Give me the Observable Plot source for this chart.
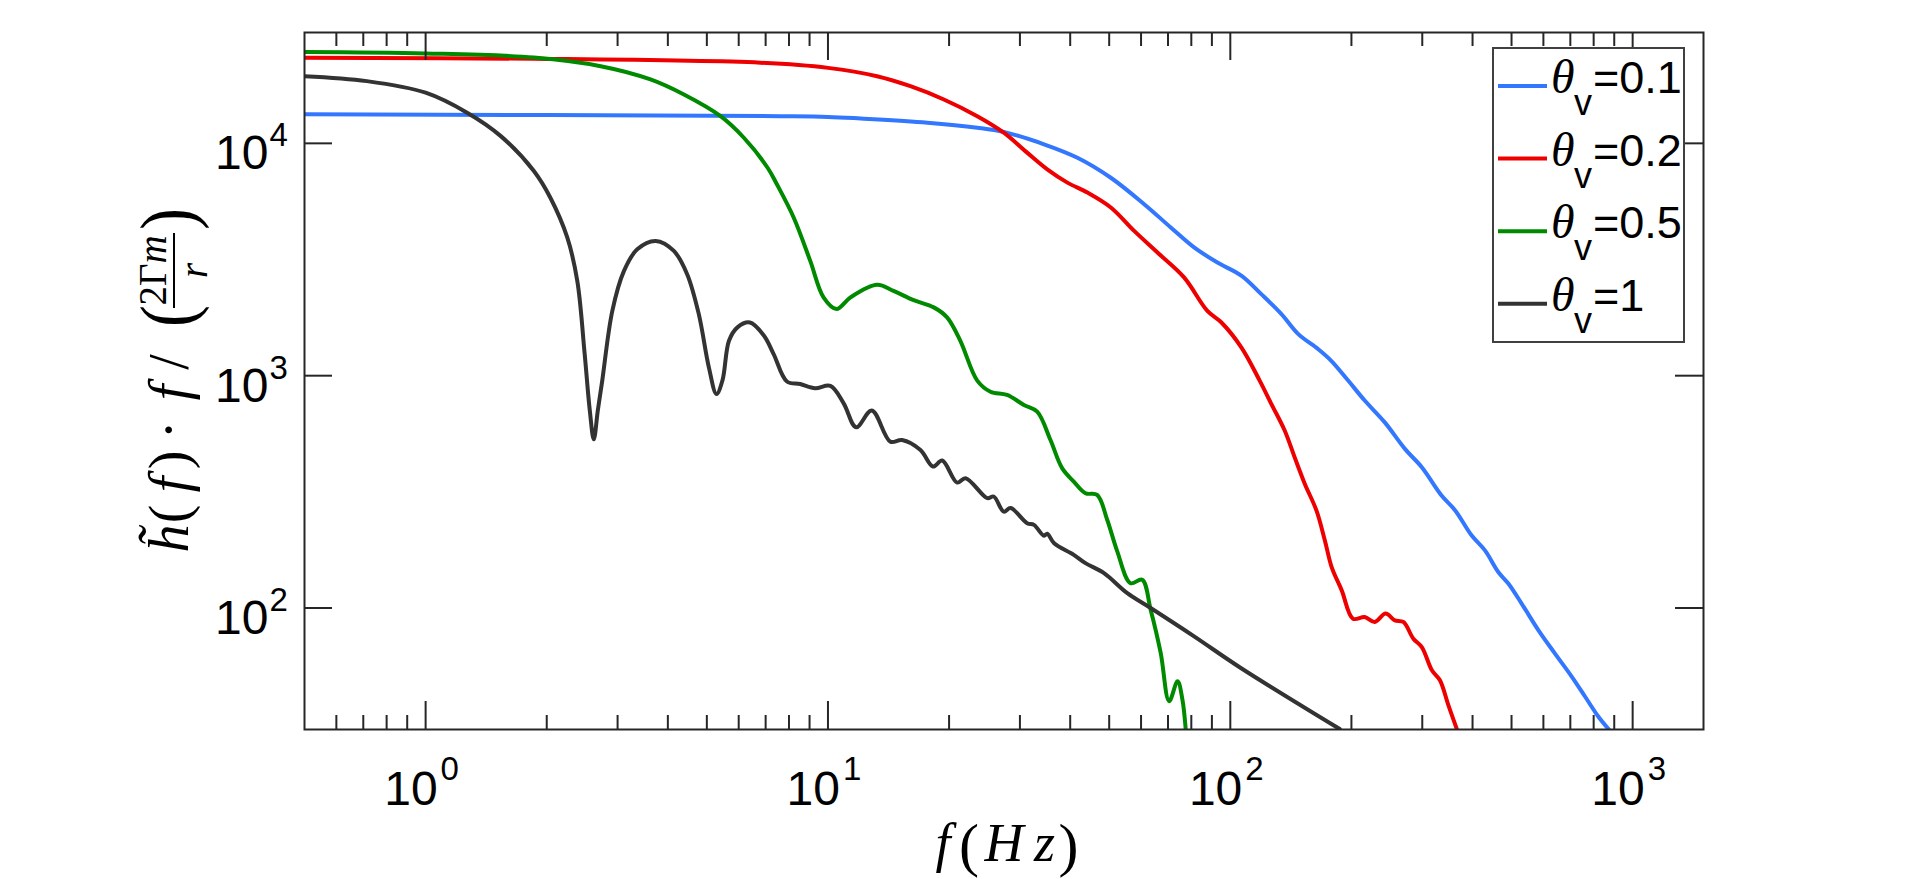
<!DOCTYPE html>
<html>
<head>
<meta charset="utf-8">
<script src="https://cdn.jsdelivr.net/npm/d3@7"></script>
<script src="https://cdn.jsdelivr.net/npm/@observablehq/plot@0.6"></script>
<style>
html,body{margin:0;padding:0;background:#fff;overflow:hidden}
#chart svg{display:block}
</style>
</head>
<body>
<div id="chart"></div>
<script>
// ---- data ----
const seriesLabels = ["0.1", "0.2", "0.5", "1"];
const seriesColors = ["#3377ff", "#ee0000", "#008a00", "#333333"];

const fBlue = [0.5, 7.638, 10, 12.05, 17.66, 23.5, 27.35, 34.43, 41.69, 50.47, 61.09, 71.12, 81.28, 92.9, 106.7, 119.4, 134.0, 147.6, 165.2, 178.2, 196.3, 215.8, 242.1, 271.6, 299.2, 335.0, 362.2, 398.1, 429.5, 463.4, 490.9, 529.7, 583.4, 641.2, 706.3, 762.1, 822.2, 871.0];
const vBlue = [13340, 13090, 13000, 12790, 12270, 11670, 11190, 9908, 8670, 7112, 5470, 4345, 3565, 3069, 2692, 2244, 1841, 1510, 1303, 1159, 952.6, 781.6, 629.5, 484.2, 403.6, 304.8, 263.0, 205.1, 177.0, 142.9, 127.4, 104.5, 80.17, 63.68, 50.58, 41.5, 34.04, 30.13];

const fRed = [0.5, 1.858, 6.792, 10, 13.24, 16.03, 19.41, 23.5, 27.35, 31.26, 35.08, 39.36, 44.16, 50.47, 57.68, 65.92, 76.74, 87.7, 95.06, 106.7, 118.3, 126.5, 136.5, 144.5, 153.1, 163.7, 171.8, 178.6, 189.2, 201.8, 215.8, 228.6, 243.2, 256.4, 269.2, 285.1, 299.2, 317.0, 331.9, 348.3, 365.6];
const vRed = [23330, 23120, 22230, 21130, 19450, 17620, 15450, 13090, 11120, 9120, 7727, 6776, 6138, 5297, 4198, 3388, 2649, 1901, 1694, 1318, 952.6, 755.1, 580.8, 445.6, 342.8, 263.0, 195.4, 150.0, 119.1, 89.95, 91.41, 87.1, 94.62, 88.51, 87.1, 73.79, 67.92, 53.95, 48.87, 38.19, 30.13];

const fGreen = [0.5, 1, 1.858, 2.723, 3.622, 4.385, 5.408, 6.18, 7.079, 7.464, 8.222, 9.036, 9.75, 10.5, 11.38, 13.24, 14.55, 16.33, 18.32, 19.77, 21.33, 23.5, 25.35, 27.86, 30.69, 33.11, 35.73, 38.19, 40.83, 43.65, 46.67, 49.43, 52.36, 56.49, 60.39, 63.39, 67.14, 70.47, 73.96, 76.03, 77.45];
const vGreen = [24720, 24380, 23400, 21480, 18840, 16220, 13090, 10570, 7852, 6668, 4786, 3119, 2173, 1936, 2173, 2460, 2317, 2113, 1968, 1782, 1413, 952.6, 853.1, 826.0, 748.2, 699.8, 528.4, 399.9, 349.9, 311.9, 306.9, 239.9, 175.4, 127.9, 132.4, 98.4, 64.12, 39.72, 48.42, 40.36, 30.27];

const fBlack = [0.5, 0.714, 1.0, 1.268, 1.535, 1.858, 2.042, 2.249, 2.382, 2.483, 2.559, 2.618, 2.679, 2.748, 2.911, 3.112, 3.357, 3.733, 4.14, 4.467, 4.775, 5.058, 5.284, 5.47, 5.675, 5.957, 6.397, 6.934, 7.328, 7.907, 8.531, 9.29, 10.14, 10.94, 11.75, 12.85, 14.29, 15.28, 16.98, 18.24, 19.23, 20.94, 21.98, 24.89, 25.82, 27.35, 28.44, 31.26, 32.51, 34.43, 35.08, 36.48, 40.83, 43.65, 48.53, 55.46, 63.39, 81.28, 106.2, 187.1];
const vBlack = [19450, 18530, 16520, 13550, 10770, 7603, 5834, 3936, 2559, 1259, 707.9, 532.1, 707.9, 952.6, 1901, 2825, 3499, 3802, 3443, 2735, 1841, 1086, 833.7, 957.1, 1413, 1614, 1694, 1486, 1239, 944.1, 920.4, 883.1, 903.6, 760.3, 599.8, 707.9, 520.0, 528.4, 478.6, 406.4, 431.5, 346.7, 362.2, 297.2, 302.0, 260.0, 269.2, 231.7, 228.0, 204.6, 208.9, 190.1, 169.4, 156.0, 141.3, 115.9, 100, 75.51, 55.21, 30.13];

const xMajorTicks = [1, 10, 100, 1000];
const xMinorTicks = [0.6, 0.7, 0.8, 0.9, 2, 3, 4, 5, 6, 7, 8, 9, 20, 30, 40, 50, 60, 70, 80, 90, 200, 300, 400, 500, 600, 700, 800, 900];
const yMajorTicks = [100, 1000, 10000];
const tickBase = "10";
const xTickExponents = ["0", "1", "2", "3"];
const yTickExponents = ["2", "3", "4"];

// ---- build table ----
const seriesF = [fBlue, fRed, fGreen, fBlack];
const seriesV = [vBlue, vRed, vGreen, vBlack];
const rows = [];
seriesLabels.forEach((lab, i) => {
  seriesF[i].forEach((f, j) => rows.push({series: lab, f, v: seriesV[i][j]}));
});

// ---- layout ----
const W = 1920, H = 879;
const mL = 304, mR = 217, mT = 32, mB = 150;
const pW = W - mL - mR, pH = H - mT - mB;
const axisColor = "#262626";
const sans = "Liberation Sans, Arial, Helvetica, sans-serif";
const serif = "Liberation Serif, Times New Roman, serif";

const plot = Plot.plot({
  width: W, height: H,
  marginLeft: mL, marginRight: mR, marginTop: mT, marginBottom: mB,
  x: {type: "log", domain: [0.5, 1500], axis: null},
  y: {type: "log", domain: [30, 30000], axis: null},
  color: {domain: seriesLabels, range: seriesColors},
  style: {background: "#fff", overflow: "visible"},
  marks: [
    Plot.line(rows, {x: "f", y: "v", stroke: "series", strokeWidth: 4, curve: "catmull-rom", clip: true}),
    // inward ticks (bottom/top, left/right)
    Plot.tickX(xMajorTicks, {x: d => d, insetTop: pH - 28, stroke: axisColor, strokeWidth: 2}),
    Plot.tickX(xMajorTicks, {x: d => d, insetBottom: pH - 28, stroke: axisColor, strokeWidth: 2}),
    Plot.tickX(xMinorTicks, {x: d => d, insetTop: pH - 14, stroke: axisColor, strokeWidth: 2}),
    Plot.tickX(xMinorTicks, {x: d => d, insetBottom: pH - 14, stroke: axisColor, strokeWidth: 2}),
    Plot.tickY(yMajorTicks, {y: d => d, insetRight: pW - 28, stroke: axisColor, strokeWidth: 2}),
    Plot.tickY(yMajorTicks, {y: d => d, insetLeft: pW - 28, stroke: axisColor, strokeWidth: 2}),
    Plot.frame({stroke: axisColor, strokeWidth: 2}),
    // x tick labels 10^n
    Plot.text(xMajorTicks, {x: d => d, frameAnchor: "bottom", text: () => tickBase, textAnchor: "end", lineAnchor: "bottom", dx: 12, dy: 75, fontSize: 48, fontFamily: sans, fill: "#000"}),
    Plot.text(xMajorTicks, {x: d => d, frameAnchor: "bottom", text: (d, i) => xTickExponents[i], textAnchor: "start", lineAnchor: "bottom", dx: 15, dy: 50, fontSize: 33, fontFamily: sans, fill: "#000"}),
    // y tick labels 10^n
    Plot.text(yMajorTicks, {y: d => d, frameAnchor: "left", text: () => tickBase, textAnchor: "end", lineAnchor: "bottom", dx: -36, dy: 26, fontSize: 48, fontFamily: sans, fill: "#000"}),
    Plot.text(yMajorTicks, {y: d => d, frameAnchor: "left", text: (d, i) => yTickExponents[i], textAnchor: "start", lineAnchor: "bottom", dx: -35, dy: 3, fontSize: 33, fontFamily: sans, fill: "#000"})
  ]
});
document.getElementById("chart").appendChild(plot);

const svg = d3.select(plot);

// ---- legend ----
const lg = svg.append("g").attr("text-anchor", "start");
lg.append("rect").attr("x", 1493).attr("y", 48).attr("width", 191).attr("height", 294)
  .attr("fill", "#fff").attr("stroke", "#404040").attr("stroke-width", 2);
seriesLabels.forEach((lab, i) => {
  const by = 93 + 72.6 * i;
  lg.append("line").attr("x1", 1498).attr("x2", 1547).attr("y1", by - 7).attr("y2", by - 7)
    .attr("stroke", seriesColors[i]).attr("stroke-width", 4);
  lg.append("text").attr("x", 1551).attr("y", by).attr("font-family", serif).attr("font-style", "italic")
    .attr("font-size", 48).attr("fill", "#000").attr("text-anchor", "start").text("θ");
  lg.append("text").attr("x", 1574).attr("y", by + 22).attr("font-family", sans)
    .attr("font-size", 36).attr("fill", "#000").attr("text-anchor", "start").text("v");
  lg.append("text").attr("x", 1593).attr("y", by).attr("font-family", sans)
    .attr("font-size", 45).attr("fill", "#000").attr("text-anchor", "start").text("=" + lab);
});

// ---- x-axis label f(Hz) ----
const xl = svg.append("g").attr("font-family", serif).attr("text-anchor", "middle").attr("fill", "#000");
[["f", 943, true, 54, 861], ["(", 969, false, 60, 865], ["H", 1004, true, 54, 861], ["z", 1044.5, true, 54, 861], [")", 1068.5, false, 60, 865]]
  .forEach(([t, x, it, fs, y]) => {
    xl.append("text").attr("x", x).attr("y", y).attr("font-size", fs)
      .attr("font-style", it ? "italic" : "normal").text(t);
  });

// ---- y-axis label  h~(f) . f / (2Γm / r) ----
const yl = svg.append("g").attr("transform", "translate(188,382) rotate(-90)")
  .attr("font-family", serif).attr("text-anchor", "middle").attr("fill", "#000");
[["h\u0303", -156.5, true], ["(", -132, false], ["f", -102.5, true], [")", -78, false],
 ["\u00B7", -48, false], ["f", -10.5, true], ["/", 20, false]]
  .forEach(([t, x, it]) => {
    yl.append("text").attr("x", x).attr("y", 0).attr("font-size", 56)
      .attr("font-style", it ? "italic" : "normal").text(t);
  });
[["(", 66], [")", 163]].forEach(([t, x]) => {
  yl.append("text").attr("transform", `translate(${x},5) scale(1.2,1.4)`).attr("font-size", 55).text(t);
});
const num = yl.append("text").attr("x", 111.5).attr("y", -22).attr("font-size", 39);
num.append("tspan").text("2Γ");
num.append("tspan").attr("font-style", "italic").text("m");
yl.append("line").attr("x1", 74).attr("x2", 149).attr("y1", -14).attr("y2", -14)
  .attr("stroke", "#000").attr("stroke-width", 2);
yl.append("text").attr("x", 111.5).attr("y", 19).attr("font-size", 39).attr("font-style", "italic").text("r");
</script>
</body>
</html>
